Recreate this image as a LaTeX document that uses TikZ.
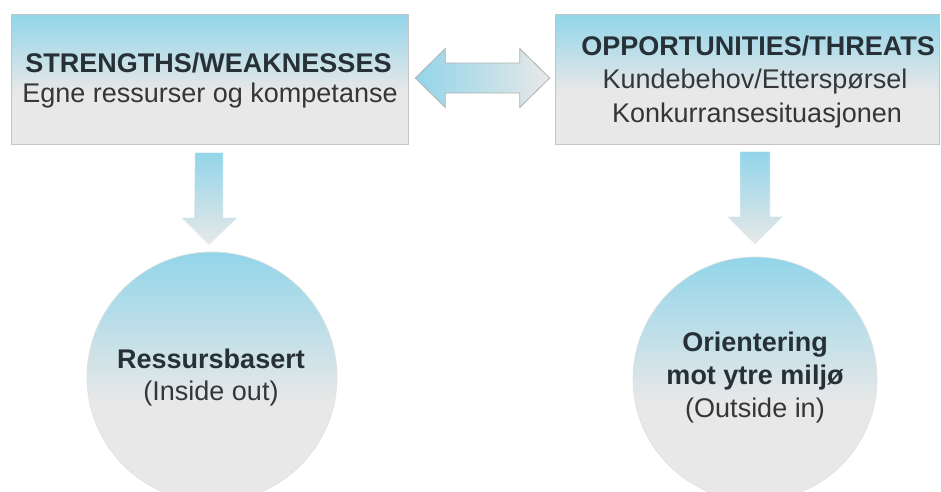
\documentclass[tikz,border=0pt]{standalone}
\usepackage{fontspec}
\setmainfont{Liberation Sans}
\usetikzlibrary{calc}

\definecolor{skyblue}{RGB}{146,213,233}
\definecolor{paleg}{RGB}{232,232,232}
\definecolor{edgeg}{RGB}{196,196,196}
\definecolor{headtxt}{RGB}{38,48,54}
\definecolor{bodytxt}{RGB}{52,54,56}

% blue on top, fading to light grey in the lower half
\pgfdeclareverticalshading{skyfade}{100bp}{color(0bp)=(paleg); color(25bp)=(paleg); color(45bp)=(paleg); color(75bp)=(skyblue); color(100bp)=(skyblue)}

\tikzset{
  panel/.style={rectangle, shading=skyfade, draw=edgeg, line width=0.6pt, inner sep=0pt},
  disc/.style={circle, shading=skyfade, draw=black!12, line width=0.6pt, inner sep=0pt},
  headline/.style={anchor=base, font=\fontsize{27}{27}\selectfont\bfseries, text=headtxt, inner sep=0pt},
  bodyline/.style={anchor=base, font=\fontsize{27}{27}\selectfont, text=bodytxt, inner sep=0pt},
  downarrow/.style={top color=skyblue, bottom color=paleg, draw=white, line width=0.4pt},
  twoway/.style={left color=skyblue, right color=paleg, draw=black!30, line width=0.8pt, line join=miter}
}

\begin{document}
\begin{tikzpicture}[x=1pt, y=-1pt]
  \useasboundingbox (0,0) rectangle (941,491);
  \clip (0,0) rectangle (941,491);
  \fill[white] (0,0) rectangle (941,491);

  % the two panels
  \node[panel, minimum width=397pt, minimum height=130pt] (sw) at (209.5,79) {};
  \node[panel, minimum width=384pt, minimum height=130pt] (ot) at (747,79) {};

  \node[headline] (swhead) at (208.5,72) {STRENGTHS/WEAKNESSES};
  \node[bodyline] (swbody) at (210,102) {Egne ressurser og kompetanse};

  \node[headline] (othead) at (758,55) {OPPORTUNITIES/THREATS};
  \node[bodyline] (otbody1) at (755,88) {Kundebehov/Etterspørsel};
  \node[bodyline] (otbody2) at (757,122) {Konkurransesituasjonen};

  % the two circles
  \node[disc, minimum size=250pt] (rb) at (212,377) {};
  \node[disc, minimum size=244pt] (om) at (755,379) {};

  \node[headline] (rbhead) at (211,368) {Ressursbasert};
  \node[bodyline] (rbbody) at (211,400) {(Inside out)};

  \node[headline] (omhead1) at (755,351) {Orientering};
  \node[headline] (omhead2) at (755,384) {mot ytre miljø};
  \node[bodyline] (ombody) at (755,417) {(Outside in)};

  % two-way block arrow between the panels
  \coordinate (dl) at ($(sw.east)+(7,-1)$);
  \coordinate (dr) at ($(ot.west)+(-5,-1)$);
  \path[twoway]
    (dl) -- ++(30,-29.5) -- ++(0,14.5) -- ($(dr)+(-30,-15)$) -- ++(0,-14.5)
    -- (dr) -- ++(-30,29.5) -- ++(0,-14.5) -- ($(dl)+(30,15)$) -- ++(0,14.5) -- cycle;

  % block arrows from each panel down to its circle
  \coordinate (ltip) at ($(sw.south)+(-0.5,101)$);
  \coordinate (rtip) at ($(om.north)+(0,-12)$);
  \path[downarrow]
    ($(ltip)+(-14,-93)$) -- ++(28,0) -- ++(0,65) -- ++(15,0) -- (ltip)
    -- ++(-28,-28) -- ++(13,0) -- cycle;
  \path[downarrow]
    ($(rtip)+(-15,-93)$) -- ++(30,0) -- ++(0,65) -- ++(13,0) -- (rtip)
    -- ++(-28,-28) -- ++(13,0) -- cycle;
\end{tikzpicture}
\end{document}
